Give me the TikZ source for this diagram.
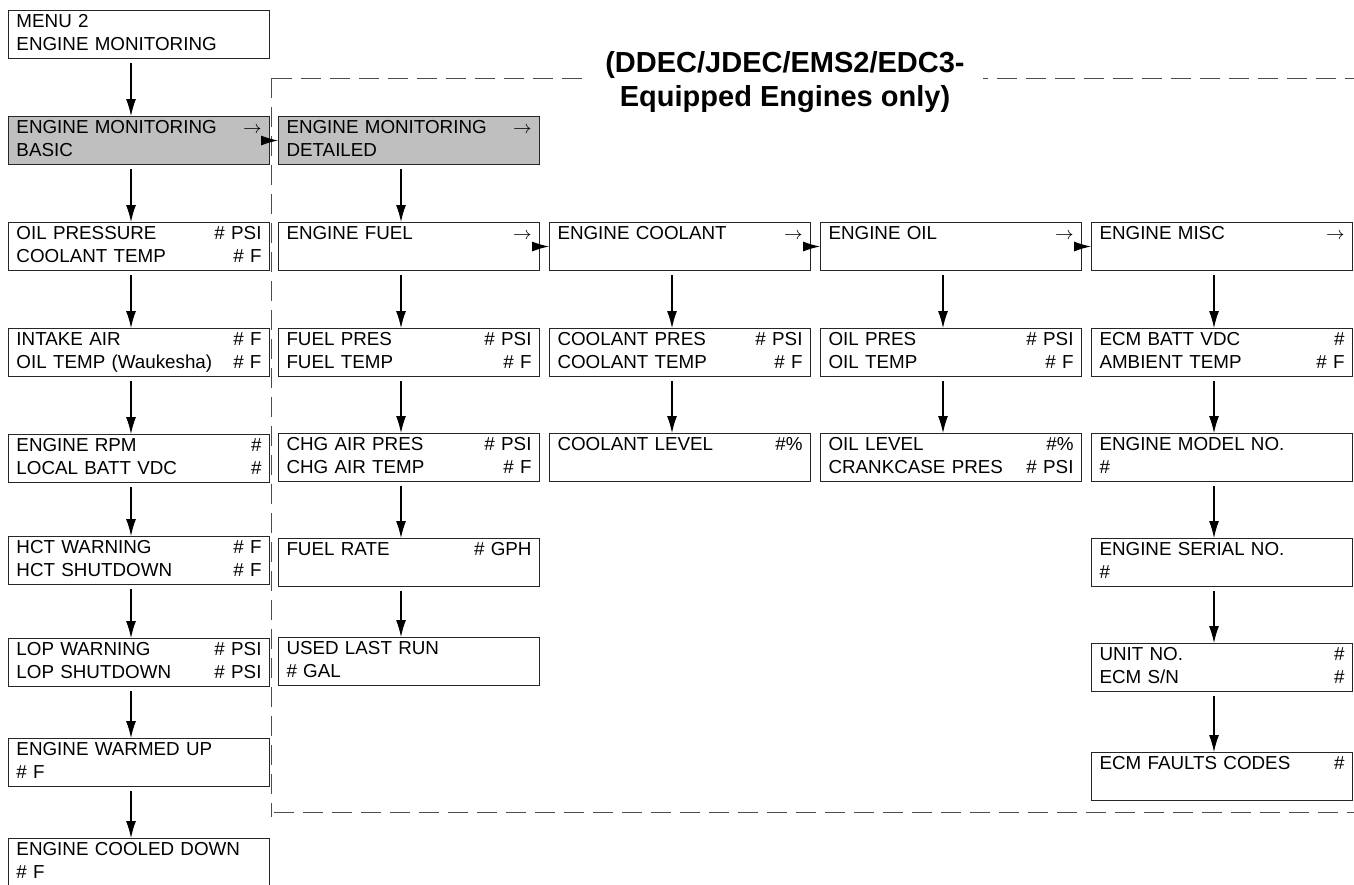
\documentclass[tikz,border=0pt]{standalone}
\usepackage{fontspec}
\setmainfont{Liberation Sans}
\usetikzlibrary{arrows.meta}
\newcommand{\nextarrow}{\hfill$\rightarrow$\hspace*{2pt}}

\begin{document}
\begin{tikzpicture}[x=0.5pt,y=-0.5pt,
  menubox/.style={draw=black!85,line width=0.5pt,fill=white,anchor=north west,
    inner xsep=4pt,inner ysep=0pt,text width=122.5pt,minimum height=24pt,
    align=left,font=\fontsize{9.4}{11.5}\selectfont},
  selbox/.style={menubox,fill=black!25},
  flow/.style={-{Latex[length=8.5pt,width=5pt]},line width=0.55pt},
  groupline/.style={black!70,line width=0.5pt,dash pattern=on 10pt off 4.5pt}]
\useasboundingbox (0,0) rectangle (1354,884);
% dashed group frame
\coordinate (gtop) at (271.5,78);
\coordinate (gbot) at (271.5,817);
\draw[groupline] (gtop) -- (gbot);
\draw[groupline] (gtop) -- (1354,78);
\draw[groupline] (274,812) -- (1354,812);
\node[font=\fontsize{14.5}{17}\selectfont\bfseries,align=center,fill=white,
  inner xsep=9pt,inner ysep=2pt,anchor=north] (title) at (785,47)
  {(DDEC/JDEC/EMS2/EDC3-\\Equipped Engines only)};
% basic column
\node[menubox] (menu) at (8,10) {\strut MENU 2\\\strut ENGINE MONITORING};
\node[selbox] (basic) at (8,116) {\strut ENGINE MONITORING\nextarrow\\\strut BASIC};
\node[menubox] (oilp) at (8,222) {\strut OIL PRESSURE\hfill\# PSI\\\strut COOLANT TEMP\hfill\# F};
\node[menubox] (intake) at (8,328) {\strut INTAKE AIR\hfill\# F\\\strut OIL TEMP (Waukesha)\hfill\# F};
\node[menubox] (rpm) at (8,434) {\strut ENGINE RPM\hfill\#\\\strut LOCAL BATT VDC\hfill\#};
\node[menubox] (hct) at (8,536) {\strut HCT WARNING\hfill\# F\\\strut HCT SHUTDOWN\hfill\# F};
\node[menubox] (lop) at (8,638) {\strut LOP WARNING\hfill\# PSI\\\strut LOP SHUTDOWN\hfill\# PSI};
\node[menubox] (warm) at (8,738) {\strut ENGINE WARMED UP\\\strut\# F};
\node[menubox] (cool) at (8,838) {\strut ENGINE COOLED DOWN\\\strut\# F};
% detailed columns
\node[selbox] (detailed) at (278,116) {\strut ENGINE MONITORING\nextarrow\\\strut DETAILED};
\node[menubox] (fuel) at (278,222) {\strut ENGINE FUEL\nextarrow\\\strut};
\node[menubox] (fuelpres) at (278,328) {\strut FUEL PRES\hfill\# PSI\\\strut FUEL TEMP\hfill\# F};
\node[menubox] (chgair) at (278,433) {\strut CHG AIR PRES\hfill\# PSI\\\strut CHG AIR TEMP\hfill\# F};
\node[menubox] (fuelrate) at (278,538) {\strut FUEL RATE\hfill\# GPH\\\strut};
\node[menubox] (usedrun) at (278,637) {\strut USED LAST RUN\\\strut\# GAL};
\node[menubox] (coolant) at (549,222) {\strut ENGINE COOLANT\nextarrow\\\strut};
\node[menubox] (coolpres) at (549,328) {\strut COOLANT PRES\hfill\# PSI\\\strut COOLANT TEMP\hfill\# F};
\node[menubox] (coollevel) at (549,433) {\strut COOLANT LEVEL\hfill\#\%\\\strut};
\node[menubox] (oil) at (820,222) {\strut ENGINE OIL\nextarrow\\\strut};
\node[menubox] (oilpres) at (820,328) {\strut OIL PRES\hfill\# PSI\\\strut OIL TEMP\hfill\# F};
\node[menubox] (oillevel) at (820,433) {\strut OIL LEVEL\hfill\#\%\\\strut CRANKCASE PRES\hfill\# PSI};
\node[menubox] (misc) at (1091,222) {\strut ENGINE MISC\nextarrow\\\strut};
\node[menubox] (ecmbatt) at (1091,328) {\strut ECM BATT VDC\hfill\#\\\strut AMBIENT TEMP\hfill\# F};
\node[menubox] (model) at (1091,433) {\strut ENGINE MODEL NO.\\\strut\#};
\node[menubox] (serial) at (1091,538) {\strut ENGINE SERIAL NO.\\\strut\#};
\node[menubox] (unit) at (1091,643) {\strut UNIT NO.\hfill\#\\\strut ECM S/N\hfill\#};
\node[menubox] (faults) at (1091,752) {\strut ECM FAULTS CODES\hfill\#\\\strut};
% arrows
\foreach \a/\b in {menu/basic,basic/oilp,oilp/intake,intake/rpm,rpm/hct,hct/lop,
    lop/warm,warm/cool,detailed/fuel,fuel/fuelpres,fuelpres/chgair,chgair/fuelrate,
    fuelrate/usedrun,coolant/coolpres,coolpres/coollevel,oil/oilpres,oilpres/oillevel,
    misc/ecmbatt,ecmbatt/model,model/serial,serial/unit,unit/faults}
  \draw[flow] ([xshift=-4pt,yshift=-2pt]\a.south) -- ([xshift=-4pt]\b.north);
\foreach \a/\b in {basic/detailed,fuel/coolant,coolant/oil,oil/misc}
  \draw[flow] (\a.east) -- (\b.west);
\end{tikzpicture}
\end{document}
